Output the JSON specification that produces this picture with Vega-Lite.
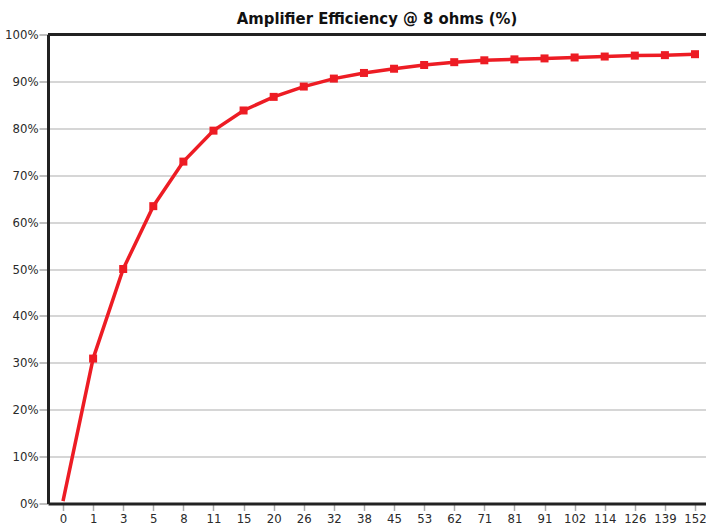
{
  "$schema": "https://vega.github.io/schema/vega-lite/v6.json",
  "width": 658,
  "height": 469,
  "autosize": "none",
  "padding": {"left": 48, "top": 34.5, "right": 0, "bottom": 28.5},
  "title": {
    "text": "Amplifier Efficiency @ 8 ohms (%)",
    "font": "'DejaVu Sans Condensed', 'Liberation Sans Narrow', sans-serif",
    "fontSize": 16.5,
    "fontWeight": "bold",
    "color": "#111111",
    "anchor": "middle",
    "offset": 1
  },
  "config": {
    "view": {"stroke": null},
    "axis": {
      "labelFont": "'DejaVu Sans Condensed', 'Liberation Sans Narrow', sans-serif",
      "labelFontSize": 13,
      "labelColor": "#2a2a2a",
      "domainColor": "#222222",
      "domainWidth": 3,
      "tickColor": "#aaaaaa",
      "tickWidth": 1.5
    }
  },
  "data": {
    "values": [
      {"watts": 0, "eff": 0.5},
      {"watts": 1, "eff": 30.9},
      {"watts": 3, "eff": 50.0},
      {"watts": 5, "eff": 63.4},
      {"watts": 8, "eff": 72.9},
      {"watts": 11, "eff": 79.5},
      {"watts": 15, "eff": 83.8},
      {"watts": 20, "eff": 86.7},
      {"watts": 26, "eff": 88.9},
      {"watts": 32, "eff": 90.6},
      {"watts": 38, "eff": 91.8},
      {"watts": 45, "eff": 92.7},
      {"watts": 53, "eff": 93.5},
      {"watts": 62, "eff": 94.1},
      {"watts": 71, "eff": 94.5},
      {"watts": 81, "eff": 94.7},
      {"watts": 91, "eff": 94.9},
      {"watts": 102, "eff": 95.1},
      {"watts": 114, "eff": 95.3},
      {"watts": 126, "eff": 95.5},
      {"watts": 139, "eff": 95.6},
      {"watts": 152, "eff": 95.8}
    ]
  },
  "encoding": {
    "x": {
      "field": "watts",
      "type": "ordinal",
      "scale": {"type": "point", "padding": 0.432, "align": 0.577},
      "axis": {
        "title": null,
        "labelAngle": 0,
        "tickSize": 7,
        "labelPadding": 2,
        "grid": false
      }
    },
    "y": {
      "field": "eff",
      "type": "quantitative",
      "scale": {"domain": [0, 100], "nice": false},
      "axis": {
        "title": null,
        "values": [0, 10, 20, 30, 40, 50, 60, 70, 80, 90, 100],
        "labelExpr": "datum.value + '%'",
        "tickSize": 9,
        "labelPadding": 1,
        "grid": true,
        "gridColor": "#c8c8c8",
        "gridWidth": 1.5
      }
    }
  },
  "layer": [
    {
      "mark": {"type": "rule", "color": "#222222", "strokeWidth": 3},
      "encoding": {"y": {"datum": 100}, "x": null}
    },
    {
      "mark": {"type": "line", "color": "#ed1c24", "strokeWidth": 3.5, "interpolate": "linear"}
    },
    {
      "transform": [{"filter": "datum.watts > 0"}],
      "mark": {"type": "point", "shape": "square", "filled": true, "size": 64, "color": "#ed1c24", "opacity": 1}
    }
  ]
}
